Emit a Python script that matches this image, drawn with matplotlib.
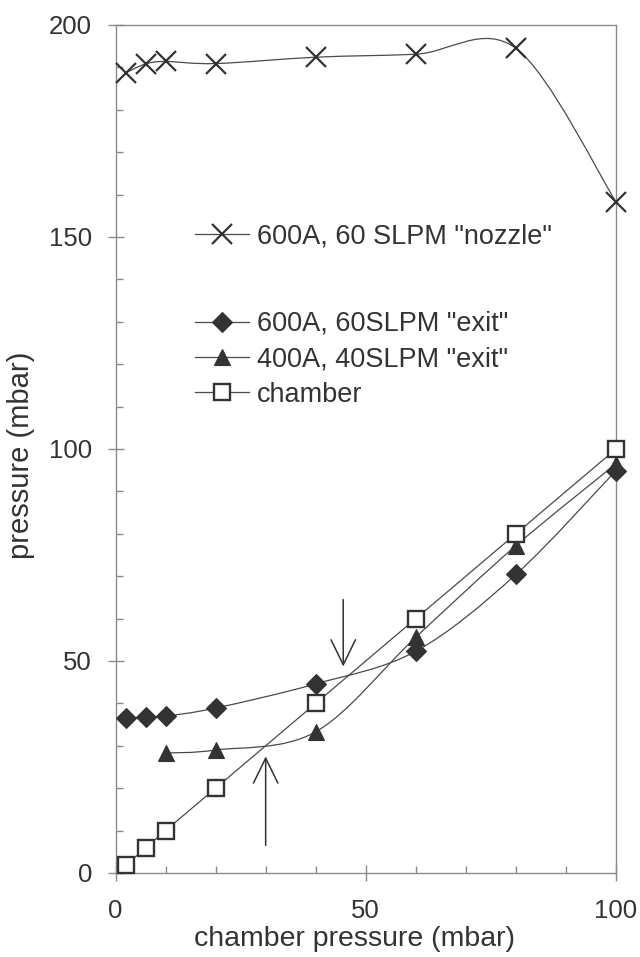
"""Pression mesurée en fonction de la pression de chambre (reproduction de figure)."""

import matplotlib

matplotlib.use("Agg")
import matplotlib.pyplot as plt
import numpy as np
from matplotlib.lines import Line2D
from matplotlib.patches import PathPatch
from matplotlib.path import Path
from matplotlib.ticker import MultipleLocator

plt.rcParams["font.family"] = ["Liberation Sans", "DejaVu Sans"]

# données
x_nozzle = [2, 6, 10, 20, 40, 60, 80, 100]
y_nozzle = [188.7, 190.8, 191.4, 190.9, 192.4, 193.1, 194.5, 158.3]

x_exit600 = [2, 6, 10, 20, 40, 60, 80, 100]
y_exit600 = [36.5, 36.8, 37.0, 38.9, 44.6, 52.3, 70.4, 94.9]

x_exit400 = [10, 20, 40, 60, 80, 100]
y_exit400 = [28.3, 29.0, 33.3, 55.6, 77.2, 96.5]

x_chamber = [2, 6, 10, 20, 40, 60, 80, 100]
y_chamber = [1.8, 5.9, 10.0, 20.0, 40.0, 60.0, 80.0, 100.0]

labels = ['600A, 60 SLPM "nozzle"', '600A, 60SLPM "exit"',
          '400A, 40SLPM "exit"', 'chamber']

# flèches (x, y départ, y pointe)
arrow_down = (45.5, 64.5, 48.7)
arrow_up = (30.0, 6.5, 27.5)

INK = "#333333"
LINE = "#4a4a4a"
AXC = "#8a8a8a"


def smooth_path(x, y):
    """Courbe lissée type tableur (Bézier, tension 1/6) passant par les points."""
    pts = np.column_stack([x, y]).astype(float)
    n = len(pts)
    verts = [pts[0]]
    codes = [Path.MOVETO]
    for i in range(n - 1):
        p_prev = pts[i - 1] if i > 0 else pts[i]
        p_next2 = pts[i + 2] if i + 2 < n else pts[i + 1]
        c1 = pts[i] + (pts[i + 1] - p_prev) / 6
        c2 = pts[i + 1] - (p_next2 - pts[i]) / 6
        verts += [c1, c2, pts[i + 1]]
        codes += [Path.CURVE4] * 3
    return Path(verts, codes)


fig = plt.figure(figsize=(6.4, 9.57), dpi=100)
ax = fig.add_axes([0.1805, 0.0878, 0.782, 0.8861])

series = [
    (x_nozzle, y_nozzle, dict(marker="x", ms=15, mew=1.6, mec=INK, mfc="none")),
    (x_exit600, y_exit600, dict(marker="D", ms=10.5, mew=0.8, mec=INK, mfc=INK)),
    (x_exit400, y_exit400, dict(marker="^", ms=12, mew=0.8, mec=INK, mfc=INK)),
    (x_chamber, y_chamber, dict(marker="s", ms=11.5, mew=1.7, mec=INK, mfc="white")),
]

handles = []
for (xs, ys, mk), lab in zip(series, labels):
    ax.add_patch(PathPatch(smooth_path(xs, ys), fill=False, edgecolor=LINE,
                           lw=0.9, zorder=2))
    ax.plot(xs, ys, ls="none", clip_on=False, zorder=3, **mk)
    handles.append(Line2D([], [], color=LINE, lw=0.9, label=lab, **mk))

for xa, y0, y1 in (arrow_down, arrow_up):
    ax.annotate("", xy=(xa, y1), xytext=(xa, y0),
                arrowprops=dict(arrowstyle="->,head_length=18,head_width=8.8",
                                mutation_scale=1, lw=1.1, color=INK,
                                shrinkA=0, shrinkB=0))

ax.set_xlim(0, 100)
ax.set_ylim(0, 200)
ax.xaxis.set_major_locator(MultipleLocator(50))
ax.xaxis.set_minor_locator(MultipleLocator(10))
ax.yaxis.set_major_locator(MultipleLocator(50))
ax.yaxis.set_minor_locator(MultipleLocator(10))

for sp in ax.spines.values():
    sp.set_color(AXC)
    sp.set_linewidth(1.0)

ax.tick_params(which="major", direction="inout", length=12, width=1.0,
               color=AXC, labelsize=18.5, labelcolor=INK)
ax.tick_params(axis="x", which="major", pad=13)
ax.tick_params(axis="y", which="major", pad=11)
ax.tick_params(which="minor", direction="in", length=5, width=1.0, color=AXC)

ax.set_xlabel("chamber pressure (mbar)", fontsize=20.5, color=INK)
ax.set_ylabel("pressure (mbar)", fontsize=21, color=INK)
ax.xaxis.set_label_coords(0.478, -0.0625)
ax.yaxis.set_label_coords(-0.161, 0.493)

leg_kw = dict(loc="upper left", frameon=False, fontsize=19.5, numpoints=1,
              handlelength=2.0, handletextpad=0.3, borderpad=0,
              borderaxespad=0, labelspacing=0.35, labelcolor=INK,
              bbox_transform=fig.transFigure)
leg1 = ax.legend(handles=handles[:1], bbox_to_anchor=(195 / 640, 1 - 223 / 957),
                 **leg_kw)
ax.add_artist(leg1)
ax.legend(handles=handles[1:], bbox_to_anchor=(195 / 640, 1 - 311 / 957), **leg_kw)

fig.savefig("out.png", dpi=100)
